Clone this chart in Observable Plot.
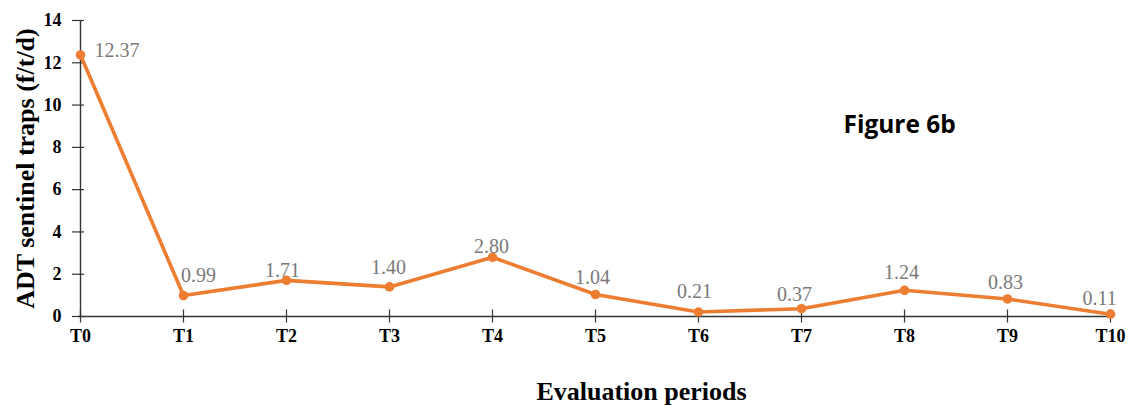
<!DOCTYPE html>
<html>
<head>
<meta charset="utf-8">
<script src="https://cdn.jsdelivr.net/npm/d3@7"></script>
<script src="https://cdn.jsdelivr.net/npm/@observablehq/plot@0.6"></script>
<style>
  html, body { margin: 0; padding: 0; background: #fff; }
  #chart svg { display: block; }
</style>
</head>
<body>
<div id="chart"></div>
<script>
const periods = ["T0","T1","T2","T3","T4","T5","T6","T7","T8","T9","T10"];
const values = [12.37, 0.99, 1.71, 1.40, 2.80, 1.04, 0.21, 0.37, 1.24, 0.83, 0.11];
const yTicks = [0, 2, 4, 6, 8, 10, 12, 14];
const yTitle = "ADT sentinel traps (f/t/d)";
const xTitle = "Evaluation periods";
const figureLabel = "Figure 6b";

const data = periods.map((p, i) => ({period: p, value: values[i], label: values[i].toFixed(2)}));

const orange = "#ED7D31";
const serif = "'Liberation Serif', 'Times New Roman', serif";

// label placement nudges (px) as in the reference, [dx, dy]
const nudge = {
  T0: [14, -4.4], T1: [15, -20.4], T2: [-4, -9.4], T3: [-1, -19.4], T4: [-1, -10.4],
  T5: [-3, -17.4], T6: [-4, -20.4], T7: [-7, -14.4], T8: [-3, -17.4], T9: [-2, -16.4], T10: [-11, -15.4]
};

const labelMarks = data.map(d => Plot.text([d], {
  x: "period", y: "value", text: "label",
  textAnchor: d.period === "T0" ? "start" : "middle",
  lineAnchor: "middle",
  dx: nudge[d.period][0], dy: nudge[d.period][1],
  fill: "#7a7a7a", fontSize: 20
}));

const chart = Plot.plot({
  width: 1132,
  height: 405,
  marginLeft: 78,
  marginRight: 20,
  marginTop: 20,
  marginBottom: 89,
  style: {fontFamily: serif, background: "#fff", color: "#000", overflow: "visible"},
  x: {type: "point", domain: periods, padding: 0},
  y: {domain: [0, 14]},
  marks: [
    Plot.axisY({ticks: yTicks, tickSize: 12, dx: 6, tickPadding: 11, label: null,
      fontSize: 18, fontWeight: "bold", stroke: "#333", strokeWidth: 1.2}),
    Plot.axisX({tickSize: 13, dy: -6.5, tickPadding: 6.5, label: null,
      fontSize: 18, fontWeight: "bold", stroke: "#333", strokeWidth: 1.2}),
    Plot.ruleY([0], {stroke: "#333", strokeWidth: 1.4}),
    Plot.ruleX([periods[0]], {stroke: "#333", strokeWidth: 1.4}),
    Plot.line(data, {x: "period", y: "value", stroke: orange, strokeWidth: 3.6}),
    Plot.dot(data, {x: "period", y: "value", fill: orange, r: 4.8}),
    ...labelMarks,
    Plot.text([figureLabel], {frameAnchor: "top-left", textAnchor: "start", lineAnchor: "middle",
      dx: 765, dy: 105,
      fontFamily: "'Open Sans', 'Liberation Sans', sans-serif", fontWeight: "bold", fontSize: 24.5, fill: "#000"}),
    Plot.text([yTitle], {frameAnchor: "left", textAnchor: "middle", lineAnchor: "middle",
      dx: -53, rotate: -90, fontWeight: "bold", fontSize: 26, fill: "#000"}),
    Plot.text([xTitle], {frameAnchor: "bottom", textAnchor: "middle", lineAnchor: "middle",
      dx: 46, dy: 75, fontWeight: "bold", fontSize: 26, fill: "#000"})
  ]
});
document.getElementById("chart").appendChild(chart);
</script>
</body>
</html>
